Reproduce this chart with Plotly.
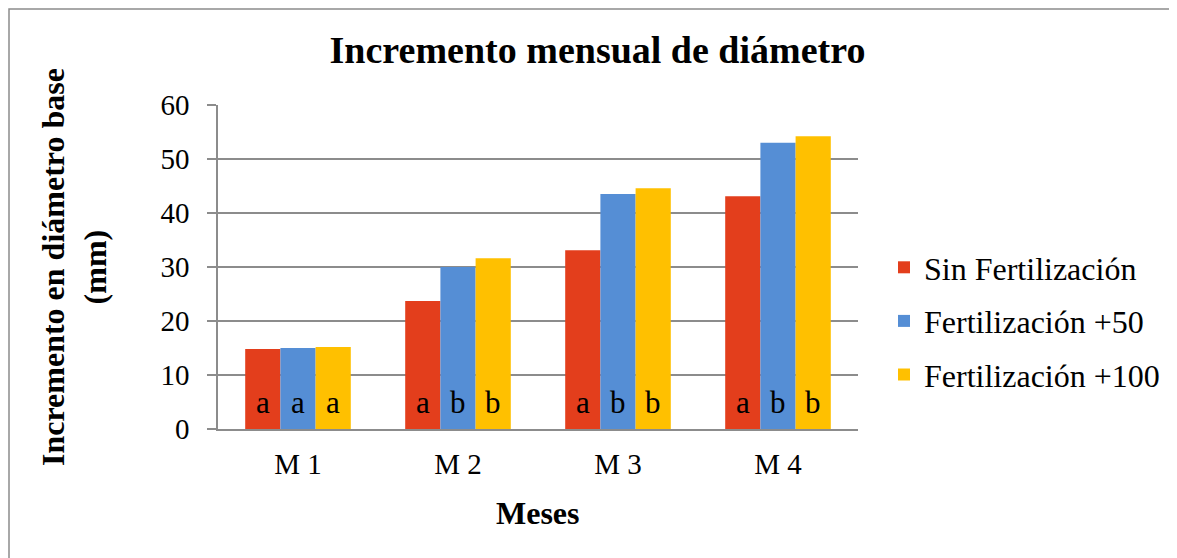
import plotly.graph_objects as go

categories = ["M 1", "M 2", "M 3", "M 4"]
series_names = ["Sin Fertilización", "Fertilización +50", "Fertilización +100"]
sin_fert = [14.8, 23.7, 33.1, 43.1]
fert_50 = [15.0, 30.0, 43.5, 53.0]
fert_100 = [15.2, 31.6, 44.6, 54.2]
letters_sin = ["a", "a", "a", "a"]
letters_50 = ["a", "b", "b", "b"]
letters_100 = ["a", "b", "b", "b"]
y_ticks = [0, 10, 20, 30, 40, 50, 60]

colors = ["#E33E1C", "#558ED5", "#FFC000"]
FONT = "Liberation Serif, Times New Roman, serif"

# page has an 8px body margin; plot area in page px: x 218..858, y 105..429
PX0, PX1, PY0, PY1 = 218, 858, 105, 429
SH = 8


def px(xp):
    return (xp - PX0) / (PX1 - PX0)


def py(yp):
    return (PY1 - yp) / (PY1 - PY0)


fig = go.Figure()
all_values = [sin_fert, fert_50, fert_100]
all_letters = [letters_sin, letters_50, letters_100]
for i, (name, vals, col) in enumerate(zip(series_names, all_values, colors)):
    fig.add_trace(go.Bar(x=categories, y=vals, name=name, legendgroup=f"g{i}",
                         marker=dict(color=col, line=dict(width=0))))

# significance letters
offsets = [-35.3, 0, 35.3]
for letters, off in zip(all_letters, offsets):
    for cat, let in zip(categories, letters):
        fig.add_annotation(x=cat, y=5.0, text=let, showarrow=False, xshift=off,
                           yanchor="middle", font=dict(family=FONT, size=31, color="black"))

# axis titles
fig.add_annotation(xref="paper", yref="paper", x=px(538), y=py(513),
                   text="<b>Meses</b>", showarrow=False, xanchor="center", yanchor="middle",
                   font=dict(family=FONT, size=32, color="black"))
fig.add_annotation(xref="paper", yref="paper", x=px(74), y=py(267),
                   text="<b>Incremento en diámetro base<br>(mm)</b>", showarrow=False, textangle=-90,
                   xanchor="center", yanchor="middle",
                   font=dict(family=FONT, size=32, color="black"))

# outer chart frame
fig.add_shape(type="rect", xref="paper", yref="paper",
              x0=px(9), x1=px(1172), y0=py(620), y1=py(9),
              line=dict(color="#8C8C8C", width=1.5), fillcolor="rgba(0,0,0,0)", layer="below")

fig.update_layout(
    width=1177, height=558,
    margin=dict(l=PX0 - SH, r=1177 - (PX1 - SH), t=PY0 - SH, b=558 - (PY1 - SH)),
    paper_bgcolor="white", plot_bgcolor="white",
    barmode="group", bargap=0.34, bargroupgap=0,
    title=dict(text="<b>Incremento mensual de diámetro</b>", x=(597.5 - SH) / 1177, xanchor="center",
               y=1 - (50 - SH) / 558, yanchor="middle", yref="container",
               font=dict(family=FONT, size=38, color="black")),
    font=dict(family=FONT, size=29, color="black"),
    legend=dict(x=px(884), xanchor="left", y=py(321), yanchor="middle",
                font=dict(family=FONT, size=32, color="black"), tracegroupgap=9,
                itemsizing="constant", bgcolor="rgba(0,0,0,0)"),
    xaxis=dict(showline=True, linecolor="#8C8C8C", linewidth=1.5, ticks="", showgrid=False,
               tickfont=dict(family=FONT, size=29, color="black"), ticklabelstandoff=8),
    yaxis=dict(range=[0, 60], tickvals=y_ticks, showgrid=True, gridcolor="#8C8C8C", gridwidth=1.5,
               showline=True, linecolor="#8C8C8C", linewidth=1.5, ticks="outside", ticklen=9,
               tickcolor="#8C8C8C", tickwidth=1.5, zeroline=False,
               tickfont=dict(family=FONT, size=29, color="black"), ticklabelstandoff=12),
)

fig.write_html("out.html")
